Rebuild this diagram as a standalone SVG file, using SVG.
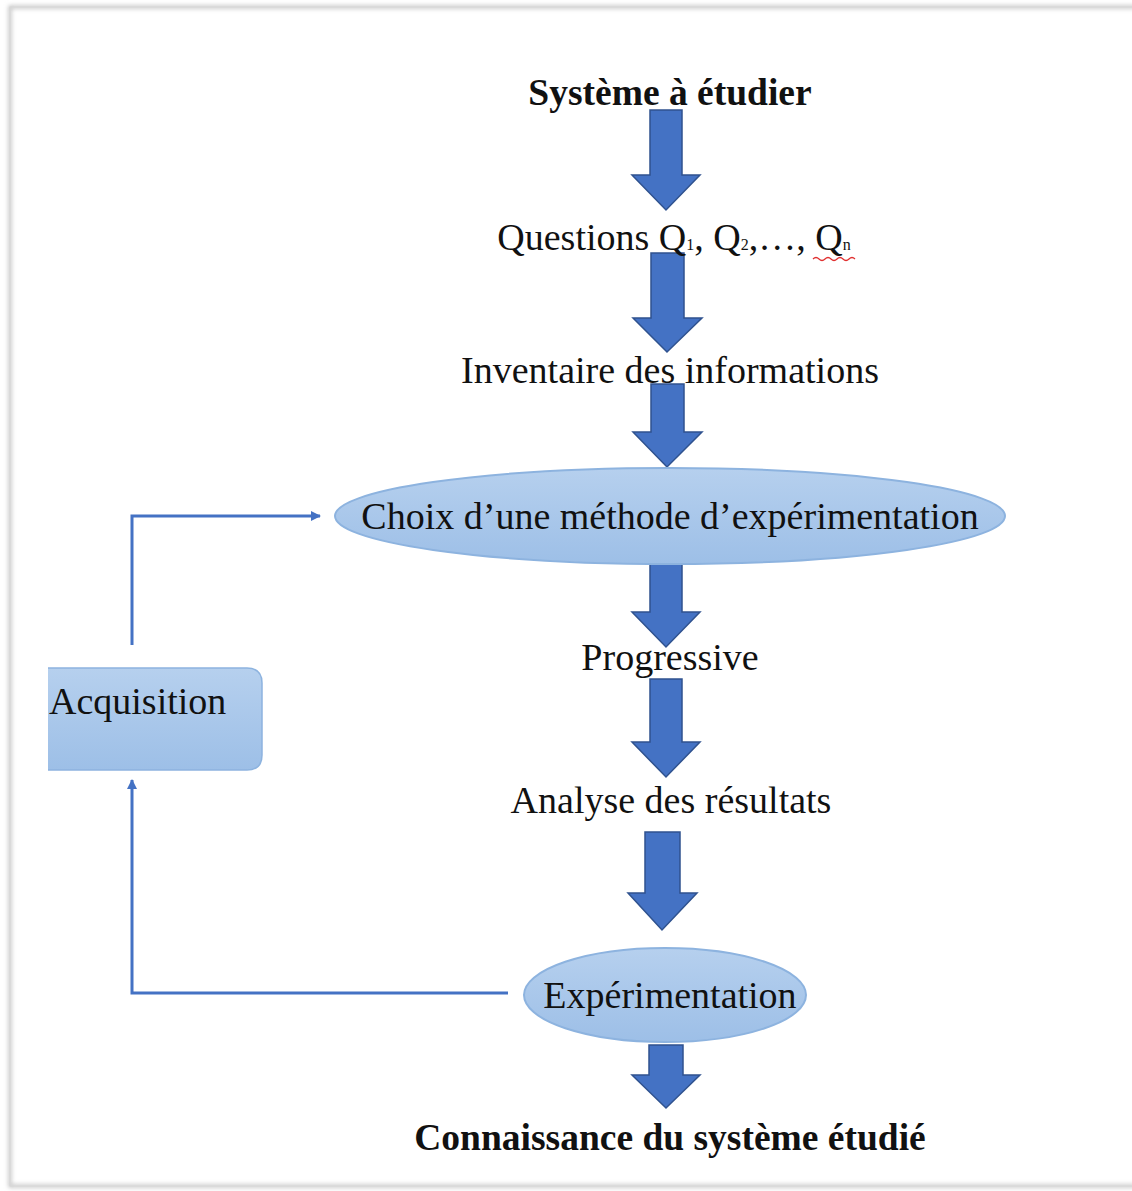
<svg xmlns="http://www.w3.org/2000/svg" width="1132" height="1191" viewBox="0 0 1132 1191">
<defs>
<linearGradient id="g" x1="0" y1="0" x2="0" y2="1">
<stop offset="0" stop-color="#B6D0EE"/>
<stop offset="1" stop-color="#9DBFE7"/>
</linearGradient>
<filter id="blur" filterUnits="userSpaceOnUse" x="0" y="0" width="1300" height="1300"><feGaussianBlur stdDeviation="2"/></filter>
<marker id="ah" markerWidth="10" markerHeight="10" refX="9" refY="5" orient="auto" markerUnits="userSpaceOnUse">
<path d="M0,0 L10,5 L0,10 Z" fill="#4472C4"/>
</marker>
</defs>
<style>
.t{font-family:"Liberation Serif","Times New Roman",serif;font-size:38px;fill:#111;text-anchor:middle}
.b{font-weight:bold;font-size:37.5px}
.arrow{fill:#4472C4;stroke:#2F528F;stroke-width:1.5}
.node{fill:url(#g);stroke:#8DB3DF;stroke-width:2}
.conn{fill:none;stroke:#4472C4;stroke-width:3}
</style>
<rect width="1132" height="1191" fill="#fff"/>
<rect x="10" y="7" width="1160" height="1179" fill="none" stroke="#bdbdbd" stroke-width="3" filter="url(#blur)"/>
<rect x="10" y="7" width="1160" height="1179" fill="none" stroke="#d6d6d6" stroke-width="1"/>

<g id="connectors">
<polyline class="conn" points="132,645 132,516 320,516" marker-end="url(#ah)"/>
<polyline class="conn" points="508,993 132,993 132,780" marker-end="url(#ah)"/>
</g>

<g id="flow-arrows">
<path class="arrow" d="M650,110 H682 V175 H700 L666,210 L632,175 H650 Z"/>
<path class="arrow" d="M651,253 H684 V318 H702 L667,352 L633,318 H651 Z"/>
<path class="arrow" d="M651,384 H684 V432 H702 L667,467 L633,432 H651 Z"/>
<path class="arrow" d="M650,548 H682 V612 H700 L666,647 L632,612 H650 Z"/>
<path class="arrow" d="M650,679 H682 V742 H700 L666,777 L632,742 H650 Z"/>
<path class="arrow" d="M645,832 H680 V893 H697 L662,930 L628,893 H645 Z"/>
<path class="arrow" d="M649,1045 H683 V1075 H700 L666,1108 L632,1075 H649 Z"/>
</g>

<g id="systeme"><text class="t b" x="670" y="105">Système à étudier</text></g>

<g id="questions">
<text class="t" x="674" y="250">Questions Q<tspan font-size="16">1</tspan><tspan>, Q</tspan><tspan font-size="16">2</tspan><tspan>,…, Q</tspan><tspan font-size="16">n</tspan></text>
<path d="M813,259 q3,-3 6,0 t6,0 t6,0 t6,0 t6,0 t6,0 t6,0" fill="none" stroke="#e03030" stroke-width="1.2"/>
</g>

<g id="inventaire"><text class="t" x="670" y="383">Inventaire des informations</text></g>

<g id="choix">
<ellipse class="node" cx="670" cy="516" rx="335" ry="48"/>
<text class="t" x="670" y="529">Choix d’une méthode d’expérimentation</text>
</g>

<g id="progressive"><text class="t" x="670" y="670">Progressive</text></g>

<g id="analyse"><text class="t" x="671" y="813">Analyse des résultats</text></g>

<g id="experimentation">
<ellipse class="node" cx="665" cy="995" rx="141" ry="47"/>
<text class="t" x="670" y="1008">Expérimentation</text>
</g>

<g id="acquisition">
<path d="M48,668 H247 Q262,668 262,683 V755 Q262,770 247,770 H48 Z" fill="url(#g)"/>
<path d="M48,668 H247 Q262,668 262,683 V755 Q262,770 247,770 H48" fill="none" stroke="#8DB3DF" stroke-width="1.5"/>
<text class="t" x="49" y="714" style="text-anchor:start">Acquisition</text>
</g>

<g id="connaissance"><text class="t b" x="670" y="1150">Connaissance du système étudié</text></g>
</svg>
